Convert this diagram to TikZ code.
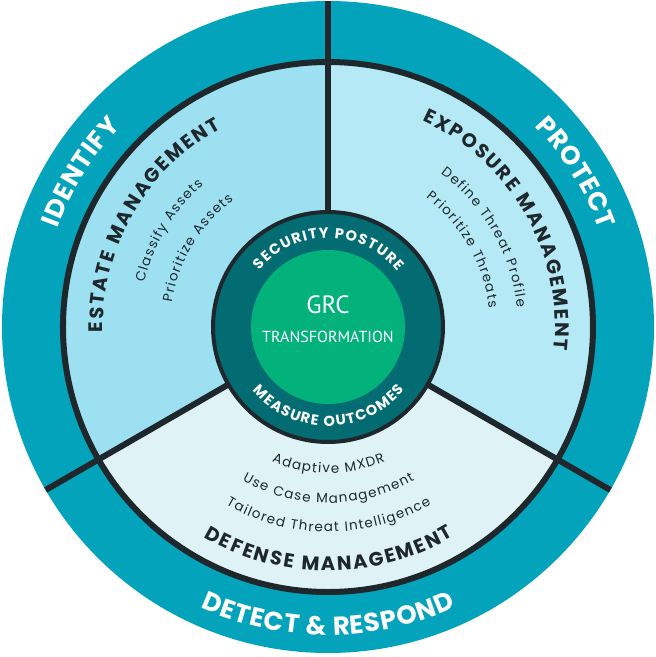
\documentclass[tikz,border=0pt]{standalone}
\usepackage{fontspec}
\setmainfont{Poppins}
\newfontfamily\grcfont{PT Sans}
\newfontfamily\itemfont{Poppins}
\usetikzlibrary{decorations.text}

\definecolor{ringteal}{HTML}{02A3BB}
\definecolor{estatefill}{HTML}{9DE0F2}
\definecolor{exposurefill}{HTML}{B5E9F6}
\definecolor{defensefill}{HTML}{DFF3F7}
\definecolor{coreteal}{HTML}{036B72}
\definecolor{coregreen}{HTML}{03B27A}
\definecolor{inkdark}{HTML}{1E272C}

\begin{document}
\begin{tikzpicture}[
    x=1pt, y=1pt,
    divider/.style={draw=inkdark, line width=6pt},
    ringlabel/.style={decorate, decoration={text along path, text align=center,
        text color=white, text={|\fontsize{26}{26}\selectfont\bfseries\kern0.8pt|#1}}},
    heading/.style={decorate, decoration={text along path, text align=center,
        text color=inkdark, text={|\fontsize{19.5}{19.5}\selectfont\bfseries\kern2pt|#1}}},
    itemtext/.style={decorate, decoration={text along path, text align=center,
        text color=inkdark, text={|\itemfont\fontsize{13.5}{13.5}\selectfont\kern1.2pt|#1}}},
    corelabel/.style={decorate, decoration={text along path, text align=center,
        text color=white, text={|\fontsize{14.5}{14.5}\selectfont\bfseries\kern1.3pt|#1}}},
]
\useasboundingbox (-328,-330) rectangle (328,327);

% outer ring
\fill[ringteal] (0,0) circle[radius=326];

% sectors
\fill[estatefill] (0,0) -- (90:265) arc[start angle=90, end angle=210, radius=265] -- cycle;
\fill[exposurefill] (0,0) -- (-30:265) arc[start angle=-30, end angle=90, radius=265] -- cycle;
\fill[defensefill] (0,0) -- (210:265) arc[start angle=210, end angle=330, radius=265] -- cycle;
\draw[inkdark, line width=6pt] (0,0) circle[radius=265];

% dividers
\foreach \a in {90,210,330}
  \draw[divider] (\a:110) -- (\a:326);

% core
\filldraw[fill=coreteal, draw=inkdark, line width=4pt] (0,0) circle[radius=115];
\fill[coregreen] (0,0) circle[radius=77];
\node[font=\grcfont\fontsize{25}{25}\selectfont, text=white] (grc) at (0,22) {GRC};
\node[font=\grcfont\fontsize{16}{16}\selectfont, text=white] (transform) at (0,-10) {TRANSFORMATION};

% core ring labels
\path[corelabel=SECURITY POSTURE] (170:89) arc[start angle=170, end angle=10, radius=89];
\path[corelabel=MEASURE OUTCOMES] (190:99) arc[start angle=190, end angle=350, radius=99];

% outer ring labels
\path[ringlabel=IDENTIFY] (193:288) arc[start angle=193, end angle=103, radius=288];
\path[ringlabel=PROTECT] (77:288) arc[start angle=77, end angle=-13, radius=288];
\path[ringlabel={DETECT {\&} RESPOND}] (220:308) arc[start angle=220, end angle=320, radius=308];

% estate management
\path[heading=ESTATE MANAGEMENT] (210:225) arc[start angle=210, end angle=90, radius=225];
\path[itemtext=Classify Assets] (190:189) arc[start angle=190, end angle=108, radius=189];
\path[itemtext=Prioritize Assets] (190:158) arc[start angle=190, end angle=108, radius=158];

% exposure management
\path[heading=EXPOSURE MANAGEMENT] (90:227) arc[start angle=90, end angle=-30, radius=227];
\path[itemtext=Define Threat Profile] (72:190) arc[start angle=72, end angle=-12, radius=190];
\path[itemtext=Prioritize Threats] (72:162) arc[start angle=72, end angle=-12, radius=162];

% defense management
\path[itemtext=Adaptive MXDR] (230:146) arc[start angle=230, end angle=310, radius=146];
\path[itemtext=Use Case Management] (230:176) arc[start angle=230, end angle=310, radius=176];
\path[itemtext=Tailored Threat Intelligence] (230:205) arc[start angle=230, end angle=310, radius=205];
\path[heading=DEFENSE MANAGEMENT] (220:244) arc[start angle=220, end angle=320, radius=244];
\end{tikzpicture}
\end{document}
